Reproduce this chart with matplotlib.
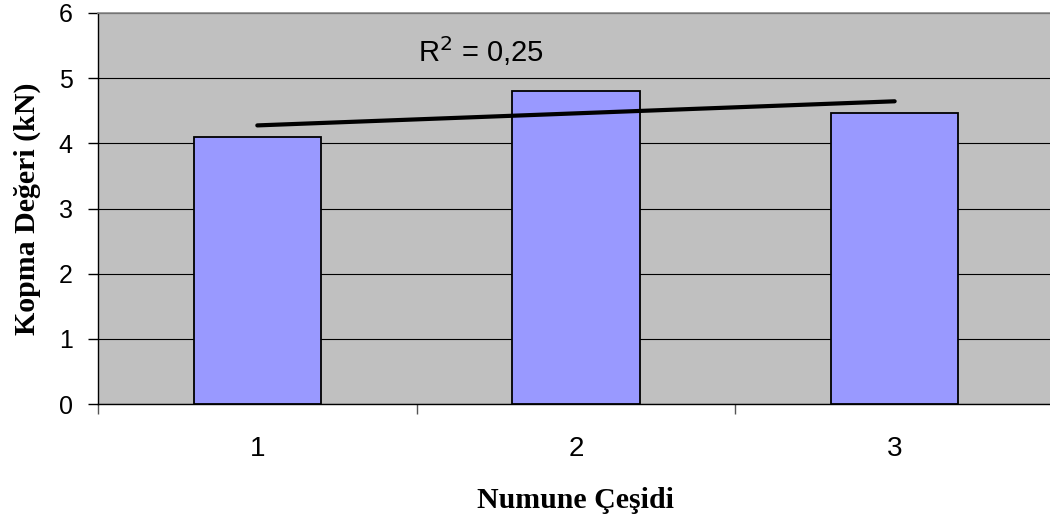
import numpy as np
import matplotlib
matplotlib.use('Agg')
import matplotlib.pyplot as plt
from matplotlib.ticker import MultipleLocator, FixedLocator

# veriler
categories = ['1', '2', '3']
values = [4.10, 4.81, 4.47]
r2_text = 'R$^{2}$ = 0,25'

fig = plt.figure(figsize=(10.5, 5.3), dpi=100)
# sag kenar resmin disina tasiyor (orijinal kirpilmis)
ax = fig.add_axes([0.0933, 0.2377, 0.9105, 0.7378])
ax.set_facecolor('#C0C0C0')

x = np.arange(1, len(categories) + 1)
ax.bar(x, values, width=0.40, color='#9999FF', edgecolor='black', linewidth=1.3, zorder=3)

# dogrusal egilim cizgisi
slope, intercept = np.polyfit(x, values, 1)
ax.plot([x[0], x[-1]], [slope * x[0] + intercept, slope * x[-1] + intercept],
        color='black', linewidth=3, solid_capstyle='round', zorder=4)
ax.text(1.504, 5.25, r2_text, fontsize=21, family='Liberation Sans', va='baseline', ha='left')

ax.set_xlim(0.5, 3.5)
ax.set_ylim(0, 6)
ax.yaxis.set_major_locator(MultipleLocator(1))
ax.grid(axis='y', color='black', linewidth=0.8)
ax.set_axisbelow(True)

ax.spines['right'].set_visible(False)
ax.spines['top'].set_color('#8C8C8C')
ax.spines['top'].set_linewidth(1.2)
ax.spines['top'].set_zorder(5)
ax.spines['left'].set_color('black')
ax.spines['bottom'].set_color('black')
ax.spines['left'].set_linewidth(1)
ax.spines['bottom'].set_linewidth(1)

ax.set_xticks(x)
ax.set_xticklabels(categories, fontsize=20, family='Liberation Sans')
ax.tick_params(axis='x', length=0, pad=23)
ax.xaxis.set_minor_locator(FixedLocator([0.5, 1.5, 2.5, 3.5]))
ax.tick_params(axis='x', which='minor', length=7.2, color='#555555', width=1)
ax.tick_params(axis='y', length=7.2, width=1, labelsize=18, pad=11)
for lab in ax.get_yticklabels():
    lab.set_family('Liberation Sans')

ax.set_xlabel('Numune Çeşidi', fontsize=21.5, family='Liberation Serif', fontweight='bold', labelpad=18)
ax.set_ylabel('Kopma Değeri (kN)', fontsize=21.5, family='Liberation Serif', fontweight='bold', labelpad=13)

fig.savefig('out.png', dpi=100)
